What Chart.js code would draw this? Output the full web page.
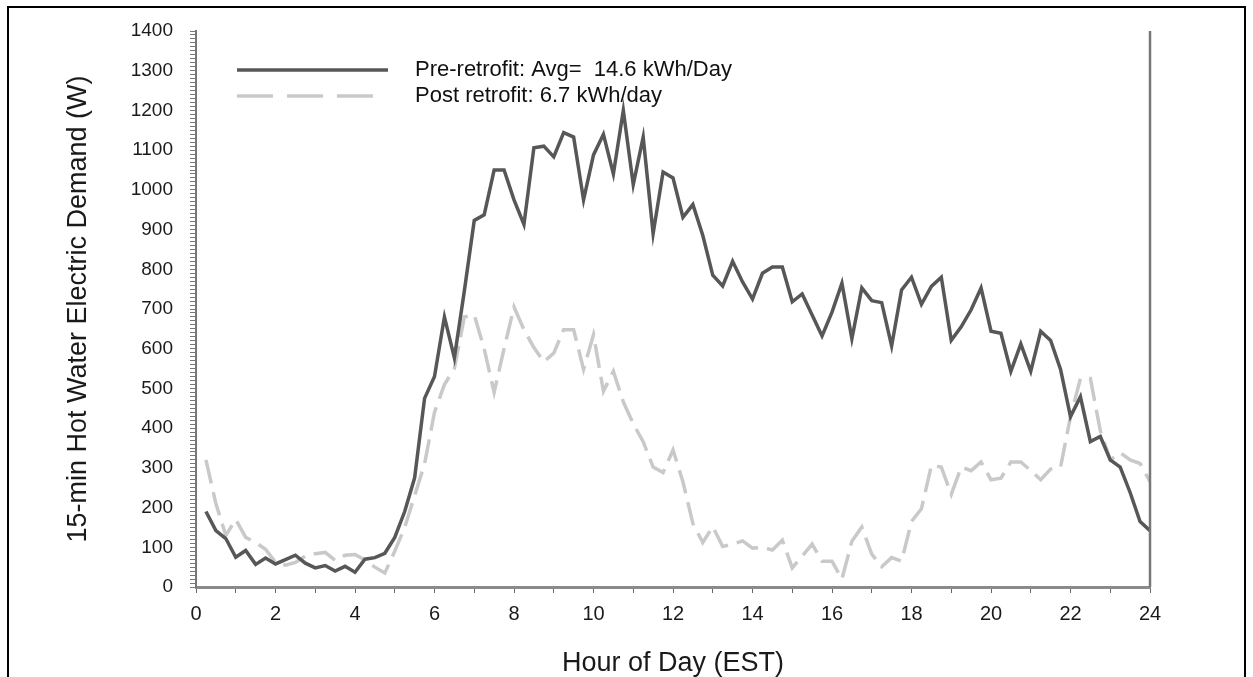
<!DOCTYPE html>
<html>
<head>
<meta charset="utf-8">
<script src="https://cdn.jsdelivr.net/npm/chart.js@4.4.1/dist/chart.umd.min.js"></script>
<style>
  html, body { margin: 0; padding: 0; background: #fff; overflow: hidden; }
  #frame { position: absolute; left: 7px; top: 6px; width: 1235px; height: 720px; border: 2px solid #000; }
  #myChart { position: absolute; left: 0; top: 0; }
</style>
</head>
<body>
<div id="frame"></div>
<canvas id="myChart" width="1253" height="677"></canvas>
<script>
// 15-minute intervals (hour of day, end of interval)
const hours = [
  0.25, 0.5, 0.75, 1, 1.25, 1.5, 1.75, 2,
  2.25, 2.5, 2.75, 3, 3.25, 3.5, 3.75, 4,
  4.25, 4.5, 4.75, 5, 5.25, 5.5, 5.75, 6,
  6.25, 6.5, 6.75, 7, 7.25, 7.5, 7.75, 8,
  8.25, 8.5, 8.75, 9, 9.25, 9.5, 9.75, 10,
  10.25, 10.5, 10.75, 11, 11.25, 11.5, 11.75, 12,
  12.25, 12.5, 12.75, 13, 13.25, 13.5, 13.75, 14,
  14.25, 14.5, 14.75, 15, 15.25, 15.5, 15.75, 16,
  16.25, 16.5, 16.75, 17, 17.25, 17.5, 17.75, 18,
  18.25, 18.5, 18.75, 19, 19.25, 19.5, 19.75, 20,
  20.25, 20.5, 20.75, 21, 21.25, 21.5, 21.75, 22,
  22.25, 22.5, 22.75, 23, 23.25, 23.5, 23.75, 24
];

// pre-retrofit demand (W)
const preRetrofit = [
  190, 142, 122, 75, 92, 57, 73, 58,
  69, 80, 60, 48, 54, 40, 52, 37,
  70, 74, 85, 125, 190, 275, 475, 530,
  680, 577, 745, 923, 937, 1050, 1050, 975,
  913, 1106, 1110, 1083, 1144, 1133, 975, 1088,
  1140, 1040, 1200, 1013, 1133, 890, 1045, 1030,
  931, 963, 885, 785, 758, 820, 768, 725,
  790, 806, 806, 718, 738, 685, 632, 692,
  765, 625, 753, 721, 716, 607, 748, 780,
  712, 757, 780, 621, 655, 698, 753, 644,
  639, 543, 612, 543, 644, 621, 548, 429,
  479, 366, 379, 320, 302, 238, 165, 142
];

// post-retrofit demand (W)
const postRetrofit = [
  320, 210, 130, 170, 125, 112, 95, 62,
  55, 62, 78, 84, 87, 67, 80, 82,
  68, 50, 35, 90, 150, 230, 310, 440,
  510, 550, 680, 685, 600, 490, 600, 705,
  648, 603, 567, 589, 648, 648, 548, 635,
  493, 543, 466, 411, 366, 302, 288, 345,
  265, 160, 112, 152, 102, 108, 116, 98,
  100, 93, 118, 48, 78, 108, 65, 65,
  20, 115, 151, 83, 51, 74, 65, 165,
  197, 306, 302, 233, 302, 293, 315, 270,
  274, 315, 315, 293, 270, 297, 302, 429,
  525, 525, 393, 320, 338, 320, 311, 265
];

const seriesLabels = ['Pre-retrofit: Avg=  14.6 kWh/Day', 'Post retrofit: 6.7 kWh/day'];
const xTitle = 'Hour of Day (EST)';
const yTitle = '15-min Hot Water Electric Demand (W)';

const arial = "'Liberation Sans', Arial, sans-serif";

const toPoints = vals => vals.map((v, i) => ({x: hours[i], y: v}));

const insideLegend = {
  id: 'insideLegend',
  afterDatasetsDraw(chart, args, opts) {
    const ctx = chart.ctx;
    chart.data.datasets.forEach((ds, i) => {
      const y = opts.top + i * opts.rowGap;
      ctx.save();
      ctx.strokeStyle = ds.borderColor;
      ctx.lineWidth = ds.borderWidth;
      ctx.setLineDash(opts.dash[i] || []);
      ctx.beginPath();
      ctx.moveTo(opts.lineStart, y);
      ctx.lineTo(opts.lineEnd[i], y);
      ctx.stroke();
      ctx.setLineDash([]);
      ctx.fillStyle = opts.color;
      ctx.font = opts.font;
      ctx.textBaseline = 'middle';
      ctx.fillText(ds.label, opts.textX, y);
      ctx.restore();
    });
  }
};

const rightBorder = {
  id: 'rightBorder',
  afterDraw(chart, args, opts) {
    const {ctx, chartArea: {top, bottom, right}} = chart;
    ctx.save();
    ctx.strokeStyle = opts.color;
    ctx.lineWidth = opts.width;
    ctx.beginPath();
    ctx.moveTo(right, top);
    ctx.lineTo(right, bottom);
    ctx.stroke();
    ctx.restore();
  }
};

new Chart(document.getElementById('myChart'), {
  type: 'line',
  data: {
    datasets: [{
      label: seriesLabels[0],
      data: toPoints(preRetrofit),
      borderColor: '#575757',
      borderWidth: 3.5,
      pointRadius: 0,
      tension: 0,
      fill: false
    }, {
      label: seriesLabels[1],
      data: toPoints(postRetrofit),
      borderColor: '#c9c9c9',
      borderWidth: 3.5,
      borderDash: [24, 9],
      pointRadius: 0,
      tension: 0,
      fill: false
    }]
  },
  options: {
    responsive: false,
    animation: false,
    layout: { padding: { top: 31, right: 103, left: 0, bottom: 0 } },
    plugins: {
      legend: { display: false },
      tooltip: { enabled: false },
      insideLegend: {
        top: 70, rowGap: 26, lineStart: 237, lineEnd: [388, 374], textX: 415,
        dash: [[], [36, 14]], color: '#111', font: '22px ' + arial
      },
      rightBorder: { color: '#777', width: 2.5 }
    },
    scales: {
      x: {
        type: 'linear',
        min: 0,
        max: 24,
        afterFit(scale) { scale.height = 90; },
        grid: { drawOnChartArea: false, tickLength: 6, tickColor: '#666' },
        border: { color: '#8a8a8a', width: 3 },
        ticks: {
          stepSize: 1,
          autoSkip: false,
          maxRotation: 0,
          padding: 9,
          color: '#1a1a1a',
          font: { family: arial, size: 20 },
          callback: v => (v % 2 === 0 ? String(v) : '')
        },
        title: {
          display: true,
          text: xTitle,
          color: '#1a1a1a',
          font: { family: arial, size: 27 },
          padding: { top: 0, bottom: -3 }
        }
      },
      y: {
        min: 0,
        max: 1400,
        afterFit(scale) { scale.width = 196; },
        grid: { drawOnChartArea: false, tickLength: 6, tickColor: '#777' },
        border: { color: '#777', width: 2 },
        ticks: {
          stepSize: 10,
          autoSkip: false,
          padding: 17,
          color: '#1a1a1a',
          font: { family: arial, size: 19 },
          callback: v => (v % 100 === 0 ? String(v) : '')
        },
        title: {
          display: true,
          text: yTitle,
          color: '#1a1a1a',
          font: { family: arial, size: 27 },
          padding: { top: 62, bottom: 0 }
        }
      }
    }
  },
  plugins: [insideLegend, rightBorder]
});
</script>
</body>
</html>
